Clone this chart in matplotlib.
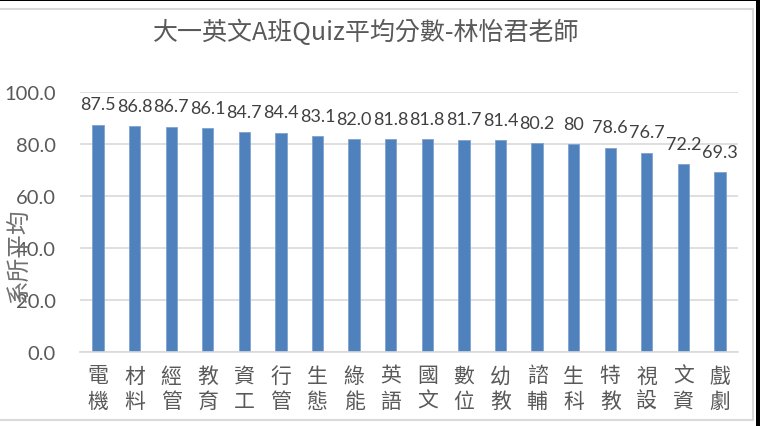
import matplotlib
matplotlib.use("Agg")
import matplotlib.pyplot as plt
from matplotlib.patches import Rectangle

categories = ["電機", "材料", "經管", "教育", "資工", "行管", "生態", "綠能", "英語",
              "國文", "數位", "幼教", "諮輔", "生科", "特教", "視設", "文資", "戲劇"]
values = [87.5, 86.8, 86.7, 86.1, 84.7, 84.4, 83.1, 82.0, 81.8, 81.8, 81.7, 81.4,
          80.2, 80, 78.6, 76.7, 72.2, 69.3]
value_labels = ["87.5", "86.8", "86.7", "86.1", "84.7", "84.4", "83.1", "82.0", "81.8",
                "81.8", "81.7", "81.4", "80.2", "80", "78.6", "76.7", "72.2", "69.3"]
yticks = [0, 20, 40, 60, 80, 100]
title = "大一英文A班Quiz平均分數-林怡君老師"
ylabel = "系所平均"

CJK = ["Noto Sans CJK TC", "DejaVu Sans"]
NUM = ["Lato", "Noto Sans CJK TC", "DejaVu Sans"]

fig = plt.figure(figsize=(7.6, 4.27), dpi=100)
W, H = 760, 427

# frame decorations
fig.patches.append(Rectangle((0, 1 - 2 / H), 1, 2 / H, transform=fig.transFigure,
                             facecolor="black", edgecolor="none", zorder=0))
fig.patches.append(Rectangle((756 / W, 0), 4 / W, 1, transform=fig.transFigure,
                             facecolor="black", edgecolor="none", zorder=0))
fig.patches.append(Rectangle((-0.01, (H - 421) / H), 753 / W + 0.01, (421 - 10) / H,
                             transform=fig.transFigure, facecolor="none",
                             edgecolor="#d9d9d9", linewidth=1.5, zorder=0))

ax = fig.add_axes([79.7 / W, 1 - 353 / H, (738.3 - 79.7) / W, (353 - 93) / H])
x = list(range(len(categories)))
ax.bar(x, values, width=0.31, color="#4f81bd", edgecolor="#7fa3d0", linewidth=0.6, zorder=3)
ax.set_xlim(-0.5, len(categories) - 0.5)
ax.set_ylim(0, 100)
ax.set_yticks(yticks)
ax.set_yticklabels([f"{v:.1f}" for v in yticks], family=NUM, fontsize=14.5, color="#595959")
ax.set_xticks(x)
ax.set_xticklabels(["\n".join(c) for c in categories], family=CJK, fontsize=15,
                   color="#595959", linespacing=1.2, va="top", fontweight="light")
ax.tick_params(axis="y", length=0, pad=17)
ax.tick_params(axis="x", length=0, pad=9)
ax.grid(axis="y", color="#d9d9d9", linewidth=1.2, zorder=0)
for s in ["top", "right", "left"]:
    ax.spines[s].set_visible(False)
ax.spines["bottom"].set_color("#d9d9d9")
ax.spines["bottom"].set_linewidth(1.2)
ax.spines["bottom"].set_zorder(4)

for xi, v, lab in zip(x, values, value_labels):
    ax.annotate(lab, (xi, v), xytext=(0, 11), textcoords="offset points",
                ha="center", va="baseline", family=NUM, fontsize=13, color="#404040")

ax.set_ylabel(ylabel, family=CJK, fontsize=17, color="#707070", fontweight="light")
ax.yaxis.set_label_coords((31 - 79.7) / (738.3 - 79.7), (353 - 256) / (353 - 93))

fig.text(366 / W, 1 - 33 / H, title, family=CJK, fontsize=18, color="#595959",
         ha="center", va="center", fontweight="light")

fig.savefig("out.png", dpi=100)
